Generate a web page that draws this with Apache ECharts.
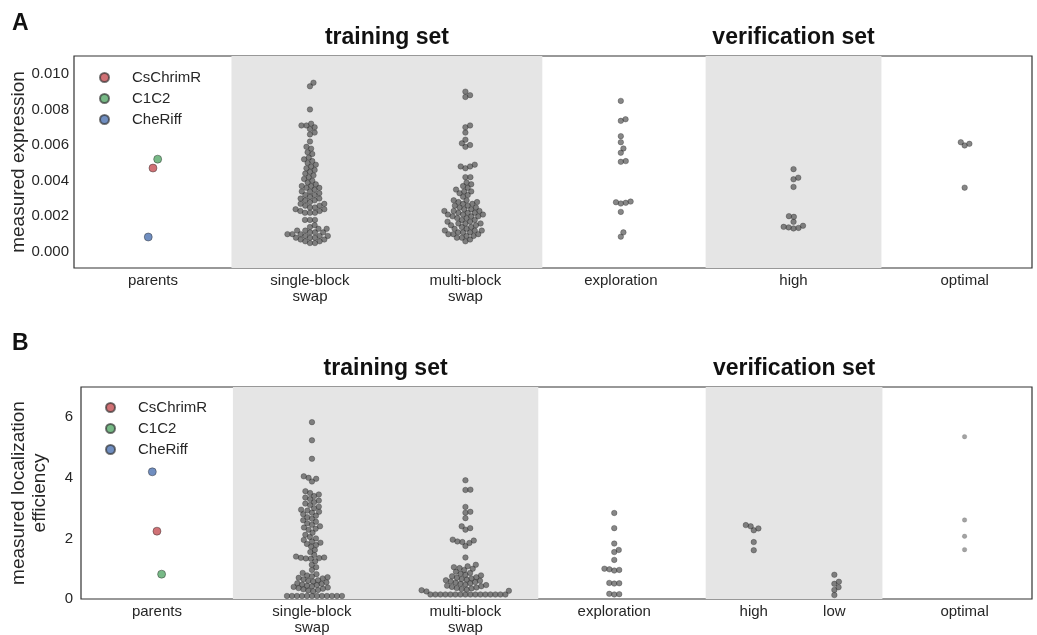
<!DOCTYPE html>
<html>
<head>
<meta charset="utf-8">
<script src="https://cdn.jsdelivr.net/npm/echarts@6/dist/echarts.min.js"></script>
<style>
  html, body { margin: 0; padding: 0; background: #fff; }
  #chart { width: 1037px; height: 635px; }
</style>
</head>
<body>
<div id="chart"></div>
<script>
// ---------- data ----------
const parentNames = ['CsChrimR', 'C1C2', 'CheRiff'];
const parentColors = ['#C44E52', '#55A868', '#4C72B0'];

// panel A: measured expression
const catNamesA = ['parents', 'single-block\nswap', 'multi-block\nswap', 'exploration', 'high', 'optimal'];
const yTicksA = [0, 0.002, 0.004, 0.006, 0.008, 0.010];
const parentsA = [0.00471, 0.00521, 0.00084];
const singleA = [
  0.0095, 0.0093, 0.0080,
  0.0072, 0.0071, 0.0071, 0.0070, 0.0069, 0.0067, 0.0066,
  0.0062, 0.0059, 0.0058, 0.0056, 0.0055,
  0.0053, 0.0052, 0.0051, 0.0050, 0.0049, 0.0048, 0.0047,
  0.0046, 0.0045, 0.0044, 0.0043, 0.0042, 0.0041, 0.0040,
  0.0039, 0.0038, 0.0037, 0.0037, 0.0036, 0.0036, 0.0035, 0.0034, 0.0034,
  0.0033, 0.0032, 0.0032, 0.0031, 0.0030, 0.0030, 0.0029, 0.0029, 0.0028,
  0.0027, 0.0027, 0.0026, 0.0026, 0.0025, 0.0025, 0.0024, 0.0024, 0.0023, 0.0023, 0.0022, 0.0022, 0.0022,
  0.0018, 0.0018, 0.0018,
  0.0015, 0.0014, 0.0013, 0.0013, 0.0012, 0.0012, 0.0011, 0.0011, 0.0011,
  0.0010, 0.0010, 0.0010, 0.0009, 0.0009, 0.0009, 0.0008, 0.0008, 0.0008,
  0.0007, 0.0007, 0.0006, 0.0006, 0.0005, 0.0005
];
const multiA = [
  0.0090, 0.0088, 0.0087,
  0.0071, 0.0070, 0.0067, 0.0063, 0.0061, 0.0060, 0.0059,
  0.0049, 0.0048, 0.0048, 0.0047,
  0.0042, 0.0042,
  0.0039, 0.0038, 0.0037, 0.0036, 0.0035, 0.0034, 0.0034, 0.0033, 0.0032, 0.0031,
  0.0029, 0.0029, 0.0028, 0.0028, 0.0027, 0.0027, 0.0026, 0.0026, 0.0025, 0.0025,
  0.0024, 0.0024, 0.0023, 0.0023, 0.0023, 0.0022, 0.0022, 0.0022, 0.0021, 0.0021, 0.0021, 0.0020, 0.0020, 0.0020,
  0.0019, 0.0019, 0.0018, 0.0018, 0.0017, 0.0017, 0.0016, 0.0016, 0.0016, 0.0015, 0.0015, 0.0014, 0.0014,
  0.0013, 0.0013, 0.0012, 0.0012, 0.0012, 0.0011, 0.0011, 0.0011, 0.0010, 0.0010, 0.0010,
  0.0009, 0.0009, 0.0008, 0.0008, 0.0007, 0.0006
];
const explorationA = [0.00848, 0.00745, 0.00736, 0.0065, 0.00616, 0.00581, 0.00557, 0.00510, 0.00506,
  0.00283, 0.00279, 0.00276, 0.00272, 0.00225, 0.0011, 0.00086];
const highA = [0.00465, 0.00417, 0.00408, 0.00365, 0.00201, 0.00197, 0.00169, 0.00147, 0.00141, 0.00138, 0.00135, 0.00132];
const optimalA = [0.00616, 0.00607, 0.00598, 0.00361];

// panel B: measured localization efficiency
const catNamesB = ['parents', 'single-block\nswap', 'multi-block\nswap', 'exploration', 'high', 'low', 'optimal'];
const yTicksB = [0, 2, 4, 6];
const parentsB = [2.24, 0.82, 4.20];
const singleB = [
  5.84, 5.24, 4.63,
  4.05, 4.00, 3.97, 3.88,
  3.56, 3.50, 3.45, 3.40, 3.35, 3.30, 3.25, 3.20, 3.15, 3.10, 3.05, 3.00, 2.95, 2.92, 2.88, 2.85,
  2.80, 2.75, 2.70, 2.65, 2.60, 2.55, 2.50, 2.45, 2.40, 2.36, 2.32, 2.29,
  2.19, 2.12, 2.05, 2.00, 1.95, 1.90, 1.86, 1.82, 1.78, 1.73,
  1.62, 1.55, 1.45, 1.40, 1.37, 1.36, 1.35, 1.34, 1.33, 1.25,
  1.13, 1.05, 0.96,
  0.86, 0.82, 0.78, 0.75, 0.72, 0.70, 0.68, 0.65, 0.62, 0.60, 0.58, 0.55, 0.52, 0.50, 0.48,
  0.46, 0.44, 0.42, 0.40, 0.38, 0.36, 0.34, 0.32, 0.30, 0.28, 0.26,
  0.10, 0.10, 0.10, 0.10, 0.10, 0.10, 0.10, 0.10, 0.10, 0.10, 0.10, 0.10
];
const multiB = [
  3.92, 3.61, 3.60, 3.04, 2.88, 2.85, 2.67, 2.40, 2.34, 2.29,
  1.96, 1.93, 1.90, 1.88, 1.85, 1.75,
  1.37,
  1.13, 1.08, 1.05, 1.02, 1.00, 0.96,
  0.90, 0.86, 0.83, 0.80, 0.78, 0.75, 0.72, 0.70, 0.68, 0.66, 0.64, 0.62, 0.60, 0.58, 0.56,
  0.54, 0.52, 0.50, 0.48, 0.46, 0.44, 0.42, 0.40, 0.38, 0.36, 0.35,
  0.33, 0.31, 0.29, 0.27, 0.25,
  0.15, 0.15, 0.15, 0.15, 0.15, 0.15, 0.15, 0.15,
  0.15, 0.15, 0.15, 0.15, 0.15, 0.15, 0.15, 0.15
];
const explorationB = [2.84, 2.34, 1.83, 1.62, 1.55, 1.29, 1.00, 0.98, 0.96, 0.94, 0.53, 0.52, 0.51, 0.17, 0.16, 0.15];
const highB = [2.44, 2.40, 2.33, 2.27, 1.88, 1.61];
const lowB = [0.80, 0.57, 0.50, 0.39, 0.30, 0.13];
const optimalB = [5.36, 2.61, 2.07, 1.63];

// ---------- layout ----------
const FONT = "'Liberation Sans', Arial, sans-serif";
const INK = '#262626';
const SHADE = '#e5e5e5';

// category centres along each x axis (1 unit = one category slot)
const catPosA = [0, 1.0, 1.99, 2.98, 4.08, 5.17];
const catPosB = [0, 1.0, 1.99, 2.95, 3.85, 4.37, 5.21];
const xRangeA = [-0.503, 5.599];
const xRangeB = [-0.49, 5.645];
const bandsA = [[0.50, 2.48], [3.52, 4.64]];
const bandsB = [[0.49, 2.46], [3.54, 4.68]];
const hueShift = [0, 0.03, -0.03];   // dodge of the three parents

const groupsA = [
  { pos: catPosA[1], vals: singleA }, { pos: catPosA[2], vals: multiA },
  { pos: catPosA[3], vals: explorationA }, { pos: catPosA[4], vals: highA },
  { pos: catPosA[5], vals: optimalA }
];
const groupsB = [
  { pos: catPosB[1], vals: singleB }, { pos: catPosB[2], vals: multiB },
  { pos: catPosB[3], vals: explorationB }, { pos: catPosB[4], vals: highB },
  { pos: catPosB[5], vals: lowB }, { pos: catPosB[6], vals: optimalB, light: true }
];

const chart = echarts.init(document.getElementById('chart'), null, { renderer: 'canvas' });

function nearestName(names, positions, v) {
  let best = 0;
  positions.forEach((p, i) => { if (Math.abs(p - v) < Math.abs(positions[best] - v)) best = i; });
  return names[best];
}

function xAxisFor(idx, range, pos, names) {
  return {
    gridIndex: idx, type: 'value', min: range[0], max: range[1],
    axisLine: { show: false }, axisTick: { show: false }, splitLine: { show: false },
    axisLabel: {
      customValues: pos, margin: 5, color: INK, fontSize: 15, fontFamily: FONT, lineHeight: 16,
      formatter: v => nearestName(names, pos, v)
    }
  };
}

function yAxisFor(idx, min, max, ticks, fmt, name, gap, margin) {
  return {
    gridIndex: idx, type: 'value', min: min, max: max,
    axisLine: { show: false }, axisTick: { show: false }, splitLine: { show: false },
    axisLabel: { customValues: ticks, formatter: fmt, color: INK, fontSize: 15, fontFamily: FONT, margin: margin },
    name: name, nameLocation: 'middle', nameGap: gap, nameRotate: 90, nameMoveOverlap: false,
    nameTextStyle: { color: INK, fontSize: 19, fontFamily: FONT, lineHeight: 21 }
  };
}

function bandSeries(idx, bands) {
  return {
    type: 'scatter', xAxisIndex: idx, yAxisIndex: idx, data: [], silent: true, z: 0,
    markArea: {
      silent: true,
      itemStyle: { color: SHADE },
      data: bands.map(b => [{ xAxis: b[0], yAxis: 'min' }, { xAxis: b[1], yAxis: 'max' }])
    }
  };
}

const gridCommon = { right: 5, height: 212, show: true, z: 1, borderColor: '#333', borderWidth: 1.2,
  backgroundColor: 'transparent', containLabel: false, outerBoundsMode: 'none' };

function legendAt(left, top) {
  return {
    left: left, top: top, orient: 'vertical', itemGap: 6, itemWidth: 9, itemHeight: 9, icon: 'circle',
    data: parentNames, selectedMode: false,
    textStyle: { color: INK, fontSize: 15, fontFamily: FONT, padding: [0, 0, 0, 18] }
  };
}

const baseOption = {
  animation: false,
  backgroundColor: '#fff',
  textStyle: { fontFamily: FONT },
  grid: [
    Object.assign({ left: 74, top: 56 }, gridCommon),
    Object.assign({ left: 81, top: 387 }, gridCommon)
  ],
  xAxis: [xAxisFor(0, xRangeA, catPosA, catNamesA), xAxisFor(1, xRangeB, catPosB, catNamesB)],
  yAxis: [
    yAxisFor(0, -0.0009, 0.011, yTicksA, v => v.toFixed(3), 'measured expression', 45, 5),
    yAxisFor(1, 0, 7, yTicksB, v => String(Math.round(v)), 'measured localization\nefficiency', 31, 8)
  ],
  legend: [legendAt(94, 65), legendAt(100, 395)],
  series: [bandSeries(0, bandsA), bandSeries(1, bandsB)]
};
chart.setOption(baseOption);

// beeswarm placement in screen space, converted back through the axes
function swarm(axisIdx, center, values, diameter) {
  const cx = chart.convertToPixel({ xAxisIndex: axisIdx }, center);
  const pts = values.map(v => ({ v: v, y: chart.convertToPixel({ yAxisIndex: axisIdx }, v) }));
  pts.sort((a, b) => a.v - b.v);
  const placed = [];
  const d2 = diameter * diameter;
  pts.forEach(p => {
    const cands = [0];
    placed.forEach(q => {
      const dy = p.y - q.y;
      if (Math.abs(dy) < diameter) {
        const dx = Math.sqrt(d2 - dy * dy);
        cands.push(q.x + dx, q.x - dx);
      }
    });
    cands.sort((a, b) => Math.abs(a) - Math.abs(b));
    let chosen = cands[cands.length - 1];
    for (const c of cands) {
      if (placed.every(q => (q.x - c) * (q.x - c) + (q.y - p.y) * (q.y - p.y) >= d2 - 1e-6)) { chosen = c; break; }
    }
    p.x = chosen;
    placed.push(p);
  });
  return pts.map(p => [chart.convertFromPixel({ xAxisIndex: axisIdx }, cx + p.x), p.v]);
}

const dotStyle = { color: 'rgba(72,72,72,0.82)', borderColor: 'rgba(40,40,40,0.7)', borderWidth: 0.6 };
const lightDot = { color: 'rgba(120,120,120,0.85)', borderColor: 'rgba(90,90,90,0.6)', borderWidth: 0.5 };

const series = [];
[[0, groupsA], [1, groupsB]].forEach(([idx, groups]) => {
  groups.forEach(g => {
    series.push({
      type: 'scatter', xAxisIndex: idx, yAxisIndex: idx, silent: true, z: 3,
      symbolSize: g.light ? 4.5 : 5.5,
      itemStyle: g.light ? lightDot : dotStyle,
      data: swarm(idx, g.pos, g.vals, 5)
    });
  });
});
[[0, parentsA, catPosA[0]], [1, parentsB, catPosB[0]]].forEach(([idx, vals, pos]) => {
  parentNames.forEach((name, i) => {
    series.push({
      name: name, type: 'scatter', xAxisIndex: idx, yAxisIndex: idx, z: 4,
      symbolSize: 8,
      itemStyle: { color: parentColors[i], borderColor: 'rgba(40,40,40,0.8)', borderWidth: 0.7 },
      data: [[pos + hueShift[i], vals[i]]]
    });
  });
});

// group headers centred over the shaded bands
function header(text, idx, band, y) {
  const x = chart.convertToPixel({ xAxisIndex: idx }, (band[0] + band[1]) / 2);
  return { type: 'text', x: x, y: y, style: { text: text, fill: '#111', font: 'bold 23px ' + FONT, textAlign: 'center', textVerticalAlign: 'middle' } };
}

chart.setOption({
  series: baseOption.series.concat(series),
  graphic: [
    { type: 'text', left: 12, top: 12, style: { text: 'A', fill: '#111', font: 'bold 23px ' + FONT } },
    { type: 'text', left: 12, top: 332, style: { text: 'B', fill: '#111', font: 'bold 23px ' + FONT } },
    header('training set', 0, bandsA[0], 38),
    header('verification set', 0, bandsA[1], 38),
    header('training set', 1, bandsB[0], 369),
    header('verification set', 1, bandsB[1], 369)
  ]
});
</script>
</body>
</html>
